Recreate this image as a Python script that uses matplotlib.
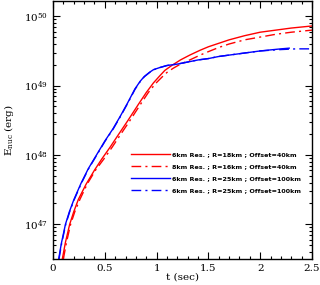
import numpy as np
import matplotlib
matplotlib.use("Agg")
import matplotlib.pyplot as plt
from matplotlib.ticker import MultipleLocator, LogLocator, NullFormatter, FixedLocator

# Data (log10 of E_nuc in erg vs time in sec)
t_red = [0.09, 0.12, 0.161, 0.2, 0.245, 0.32, 0.4, 0.47, 0.55, 0.63, 0.72, 0.82, 0.9, 0.97, 1.03, 1.08, 1.146,
         1.23, 1.32, 1.42, 1.5, 1.6, 1.7, 1.85, 2.0, 2.15, 2.3, 2.5]
logE_red = [46.5, 46.74, 47.0, 47.18, 47.36, 47.58, 47.78, 47.94, 48.11, 48.29, 48.49, 48.72, 48.9, 49.04, 49.14,
            49.22, 49.29, 49.37, 49.44, 49.51, 49.56, 49.61, 49.66, 49.72, 49.77, 49.80, 49.83, 49.86]

t_red_dd = [0.1, 0.13, 0.17, 0.21, 0.26, 0.33, 0.41, 0.49, 0.57, 0.65, 0.74, 0.84, 0.92, 0.99, 1.05, 1.1, 1.16,
            1.23, 1.32, 1.42, 1.5, 1.6, 1.7, 1.85, 2.0, 2.15, 2.3, 2.5]
logE_red_dd = [46.5, 46.74, 47.0, 47.18, 47.36, 47.58, 47.78, 47.94, 48.11, 48.29, 48.49, 48.72, 48.9, 49.03,
               49.12, 49.19, 49.25, 49.31, 49.37, 49.44, 49.49, 49.55, 49.60, 49.66, 49.70, 49.74, 49.77, 49.80]

t_blue = [0.055, 0.08, 0.12, 0.16, 0.2, 0.27, 0.34, 0.42, 0.5, 0.58, 0.65, 0.72, 0.79, 0.84, 0.88, 0.93, 0.97,
          1.03, 1.1, 1.2, 1.3, 1.4, 1.5, 1.6, 1.8, 2.0, 2.2, 2.28]
logE_blue = [46.5, 46.72, 47.0, 47.19, 47.35, 47.59, 47.8, 48.0, 48.2, 48.38, 48.56, 48.75, 48.95, 49.06, 49.13,
             49.19, 49.23, 49.26, 49.29, 49.31, 49.34, 49.37, 49.39, 49.42, 49.46, 49.50, 49.53, 49.54]

t_blue_dd = [0.058, 0.083, 0.123, 0.163, 0.203, 0.273, 0.343, 0.423, 0.503, 0.583, 0.653, 0.723, 0.793, 0.843,
             0.883, 0.933, 0.973, 1.03, 1.1, 1.2, 1.3, 1.4, 1.5, 1.6, 1.8, 2.0, 2.2, 2.35, 2.5]
logE_blue_dd = [46.5, 46.72, 47.0, 47.19, 47.35, 47.59, 47.8, 48.0, 48.2, 48.38, 48.56, 48.75, 48.95, 49.06,
                49.13, 49.19, 49.23, 49.26, 49.29, 49.31, 49.34, 49.37, 49.39, 49.42, 49.46, 49.50, 49.52,
                49.53, 49.53]

labels = ["6km Res. ; R=18km ; Offset=40km",
          "8km Res. ; R=16km ; Offset=40km",
          "6km Res. ; R=25km ; Offset=100km",
          "6km Res. ; R=25km ; Offset=100km"]

plt.rcParams['font.family'] = ['DejaVu Serif']
plt.rcParams['mathtext.fontset'] = 'dejavuserif'

fig = plt.figure(figsize=(3.2, 2.85), dpi=100)
ax = fig.add_axes([53/320, 1 - 259/285, 259/320, 258/285])

dd = (0, (7, 3, 1.5, 3))
ax.plot(t_red, 10**np.array(logE_red), color='#ff0000', lw=1.0, label=labels[0])
ax.plot(t_red_dd, 10**np.array(logE_red_dd), color='#ff0000', lw=1.0, ls=dd, label=labels[1])
ax.plot(t_blue, 10**np.array(logE_blue), color='#0000ff', lw=1.0, label=labels[2])
ax.plot(t_blue_dd, 10**np.array(logE_blue_dd), color='#0000ff', lw=1.0, ls=dd, label=labels[3])

ax.set_yscale('log')
ax.set_xlim(0, 2.5)
ax.set_ylim(10**46.5, 10**50.22)

ax.xaxis.set_major_locator(MultipleLocator(0.5))
ax.xaxis.set_minor_locator(MultipleLocator(0.1))
ax.xaxis.set_major_formatter(plt.FuncFormatter(lambda v, p: ('%g' % v)))
ax.yaxis.set_major_locator(FixedLocator([1e47, 1e48, 1e49, 1e50]))
ax.yaxis.set_minor_locator(LogLocator(base=10, subs=np.arange(2, 10)))
ax.yaxis.set_minor_formatter(NullFormatter())
ax.yaxis.set_major_formatter(plt.FuncFormatter(lambda v, p: r'$10^{%d}$' % round(np.log10(v))))

ax.tick_params(which='both', direction='in', top=True, right=True, labelsize=7.5, width=0.8)
ax.tick_params(which='major', length=5)
ax.tick_params(which='minor', length=2.5)
for s in ax.spines.values():
    s.set_linewidth(1.0)

ax.set_xlabel('t (sec)', fontsize=7.5, labelpad=0)
ax.set_ylabel(r'E$_{\rm nuc}$ (erg)', fontsize=7.5, labelpad=6)

leg = ax.legend(loc='upper left', bbox_to_anchor=(131/320, (285-152)/285), bbox_transform=fig.transFigure,
                frameon=False, handlelength=6.2, handletextpad=0.3, labelspacing=1.05,
                borderpad=0, borderaxespad=0, prop={'family': 'DejaVu Sans', 'weight': 'bold', 'size': 4.55})

fig.savefig('out.png', dpi=100)
